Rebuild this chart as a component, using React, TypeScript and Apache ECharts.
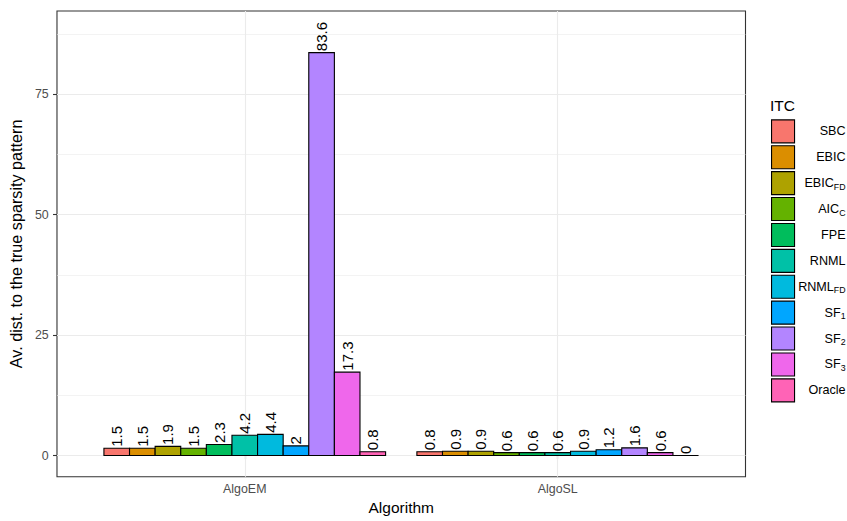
import React, { useEffect, useRef } from 'react';
import * as echarts from 'echarts';

// Categories on the x axis
const ALGORITHMS = ['AlgoEM', 'AlgoSL'];

// Information-theoretic criteria (legend entries), main text + subscript
const ITC_NAMES = ['SBC', 'EBIC', 'EBIC_FD', 'AIC_C', 'FPE', 'RNML', 'RNML_FD', 'SF_1', 'SF_2', 'SF_3', 'Oracle'];
const ITC_MAIN = ['SBC', 'EBIC', 'EBIC', 'AIC', 'FPE', 'RNML', 'RNML', 'SF', 'SF', 'SF', 'Oracle'];
const ITC_SUB = ['', '', 'FD', 'C', '', '', 'FD', '1', '2', '3', ''];
const ITC_COLORS = ['#F8766D', '#DB8E00', '#AEA200', '#64B200', '#00BD5C', '#00C1A7', '#00BADE', '#00A6FF', '#B385FF', '#EF67EB', '#FF63B6'];

// Average distance to the true sparsity pattern, one value per criterion
const ALGO_EM_VALUES = [1.5, 1.5, 1.9, 1.5, 2.3, 4.2, 4.4, 2, 83.6, 17.3, 0.8];
const ALGO_SL_VALUES = [0.8, 0.9, 0.9, 0.6, 0.6, 0.6, 0.9, 1.2, 1.6, 0.6, 0];

// Axis ticks and grid lines
const Y_TICKS = [0, 25, 50, 75];
const Y_MINOR = [12.5, 37.5, 62.5, 87.5];
const X_TICKS = [1, 2];

const FONT = '"Liberation Sans", Arial, Helvetica, sans-serif';
const DODGE_WIDTH = 0.9;

function makeRenderItem(k: number) {
  return (_params: any, api: any) => {
    const n = ITC_NAMES.length;
    const slot = DODGE_WIDTH / n;
    const center = api.value(0) + (k - (n - 1) / 2) * slot;
    const value = api.value(1);
    const p0 = api.coord([center - slot / 2, value]);
    const p1 = api.coord([center + slot / 2, 0]);
    return {
      type: 'group',
      children: [
        {
          type: 'rect',
          shape: { x: p0[0], y: p0[1], width: p1[0] - p0[0], height: p1[1] - p0[1] },
          style: { fill: ITC_COLORS[k], stroke: '#000', lineWidth: 1.1 },
        },
        {
          type: 'text',
          x: (p0[0] + p1[0]) / 2,
          y: p0[1] - 1.5,
          rotation: Math.PI / 2,
          style: {
            text: String(value),
            fill: '#000',
            fontSize: 15,
            fontFamily: FONT,
            align: 'left',
            verticalAlign: 'middle',
          },
        },
      ],
    };
  };
}

export default function App() {
  const ref = useRef<HTMLDivElement>(null);

  useEffect(() => {
    document.body.style.margin = '0';
    if (!ref.current) return;
    const chart = echarts.init(ref.current, undefined, { renderer: 'svg' });

    const barSeries = ITC_NAMES.map((name, k) => ({
      type: 'custom',
      name,
      z: 3,
      itemStyle: { color: ITC_COLORS[k] },
      encode: { x: 0, y: 1 },
      data: [
        [1, ALGO_EM_VALUES[k]],
        [2, ALGO_SL_VALUES[k]],
      ],
      renderItem: makeRenderItem(k),
    }));

    const major = { color: '#EBEBEB', width: 1.1, type: 'solid' };
    const minor = { color: '#EBEBEB', width: 0.6, type: 'solid' };

    const gridSeries = {
      type: 'line',
      name: '__grid',
      data: [],
      silent: true,
      z: 1,
      markLine: {
        silent: true,
        z: 1,
        symbol: ['none', 'none'],
        label: { show: false },
        emphasis: { disabled: true },
        data: [
          ...Y_MINOR.map((v) => ({ yAxis: v, lineStyle: minor })),
          ...Y_TICKS.map((v) => ({ yAxis: v, lineStyle: major })),
          ...X_TICKS.map((v) => ({ xAxis: v, lineStyle: major })),
        ],
      },
    };

    chart.setOption({
      animation: false,
      textStyle: { fontFamily: FONT },
      grid: {
        left: 55,
        right: 101.5,
        top: 11,
        bottom: 44.3,
        show: true,
        backgroundColor: '#fff',
        borderColor: '#333',
        borderWidth: 1.1,
      },
      xAxis: {
        type: 'value',
        min: 0.4,
        max: 2.6,
        axisLine: { show: false },
        splitLine: { show: false },
        axisTick: { show: true, customValues: X_TICKS, length: 4, lineStyle: { color: '#333', width: 1.1 } },
        axisLabel: {
          customValues: X_TICKS,
          formatter: (v: number) => ALGORITHMS[Math.round(v) - 1] ?? '',
          color: '#4D4D4D',
          fontSize: 12.4,
          fontFamily: FONT,
          margin: 6,
        },
        name: 'Algorithm',
        nameLocation: 'middle',
        nameGap: 31,
        nameTextStyle: { color: '#000', fontSize: 15.5, fontFamily: FONT, verticalAlign: 'middle' },
      },
      yAxis: {
        type: 'value',
        min: -4.39,
        max: 92.24,
        axisLine: { show: false },
        splitLine: { show: false },
        axisTick: { show: true, customValues: Y_TICKS, length: 4, lineStyle: { color: '#333', width: 1.1 } },
        axisLabel: {
          customValues: Y_TICKS,
          color: '#4D4D4D',
          fontSize: 12.4,
          fontFamily: FONT,
          margin: 8.3,
        },
        name: 'Av. dist. to the true sparsity pattern',
        nameLocation: 'middle',
        nameRotate: 90,
        nameGap: 37,
        nameTextStyle: { color: '#000', fontSize: 16.2, fontFamily: FONT, verticalAlign: 'middle' },
      },
      legend: {
        orient: 'vertical',
        left: 771,
        top: 119.3,
        padding: 0,
        itemWidth: 23,
        itemHeight: 23,
        itemGap: 1.8,
        icon: 'rect',
        selectedMode: false,
        data: ITC_NAMES,
        itemStyle: { borderColor: '#000', borderWidth: 1.1 },
        formatter: (name: string) => {
          const i = ITC_NAMES.indexOf(name);
          return ITC_SUB[i] ? `{m|${ITC_MAIN[i]}}{s|${ITC_SUB[i]}}` : `{m|${ITC_MAIN[i]}}`;
        },
        textStyle: {
          width: 46,
          color: '#000',
          fontSize: 12.6,
          fontFamily: FONT,
          rich: {
            m: { align: 'right', fontSize: 12.6, fontFamily: FONT, color: '#000', lineHeight: 16 },
            s: { align: 'right', fontSize: 8.8, fontFamily: FONT, color: '#000', lineHeight: 10, verticalAlign: 'bottom' },
          },
        },
      },
      graphic: [
        {
          type: 'text',
          left: 770,
          top: 97,
          style: { text: 'ITC', fontSize: 15.5, fontFamily: FONT, fill: '#000' },
        },
      ],
      series: [gridSeries, ...barSeries],
    });

    return () => chart.dispose();
  }, []);

  return <div ref={ref} style={{ width: 847, height: 521, position: 'absolute', left: 0, top: 0 }} />;
}
